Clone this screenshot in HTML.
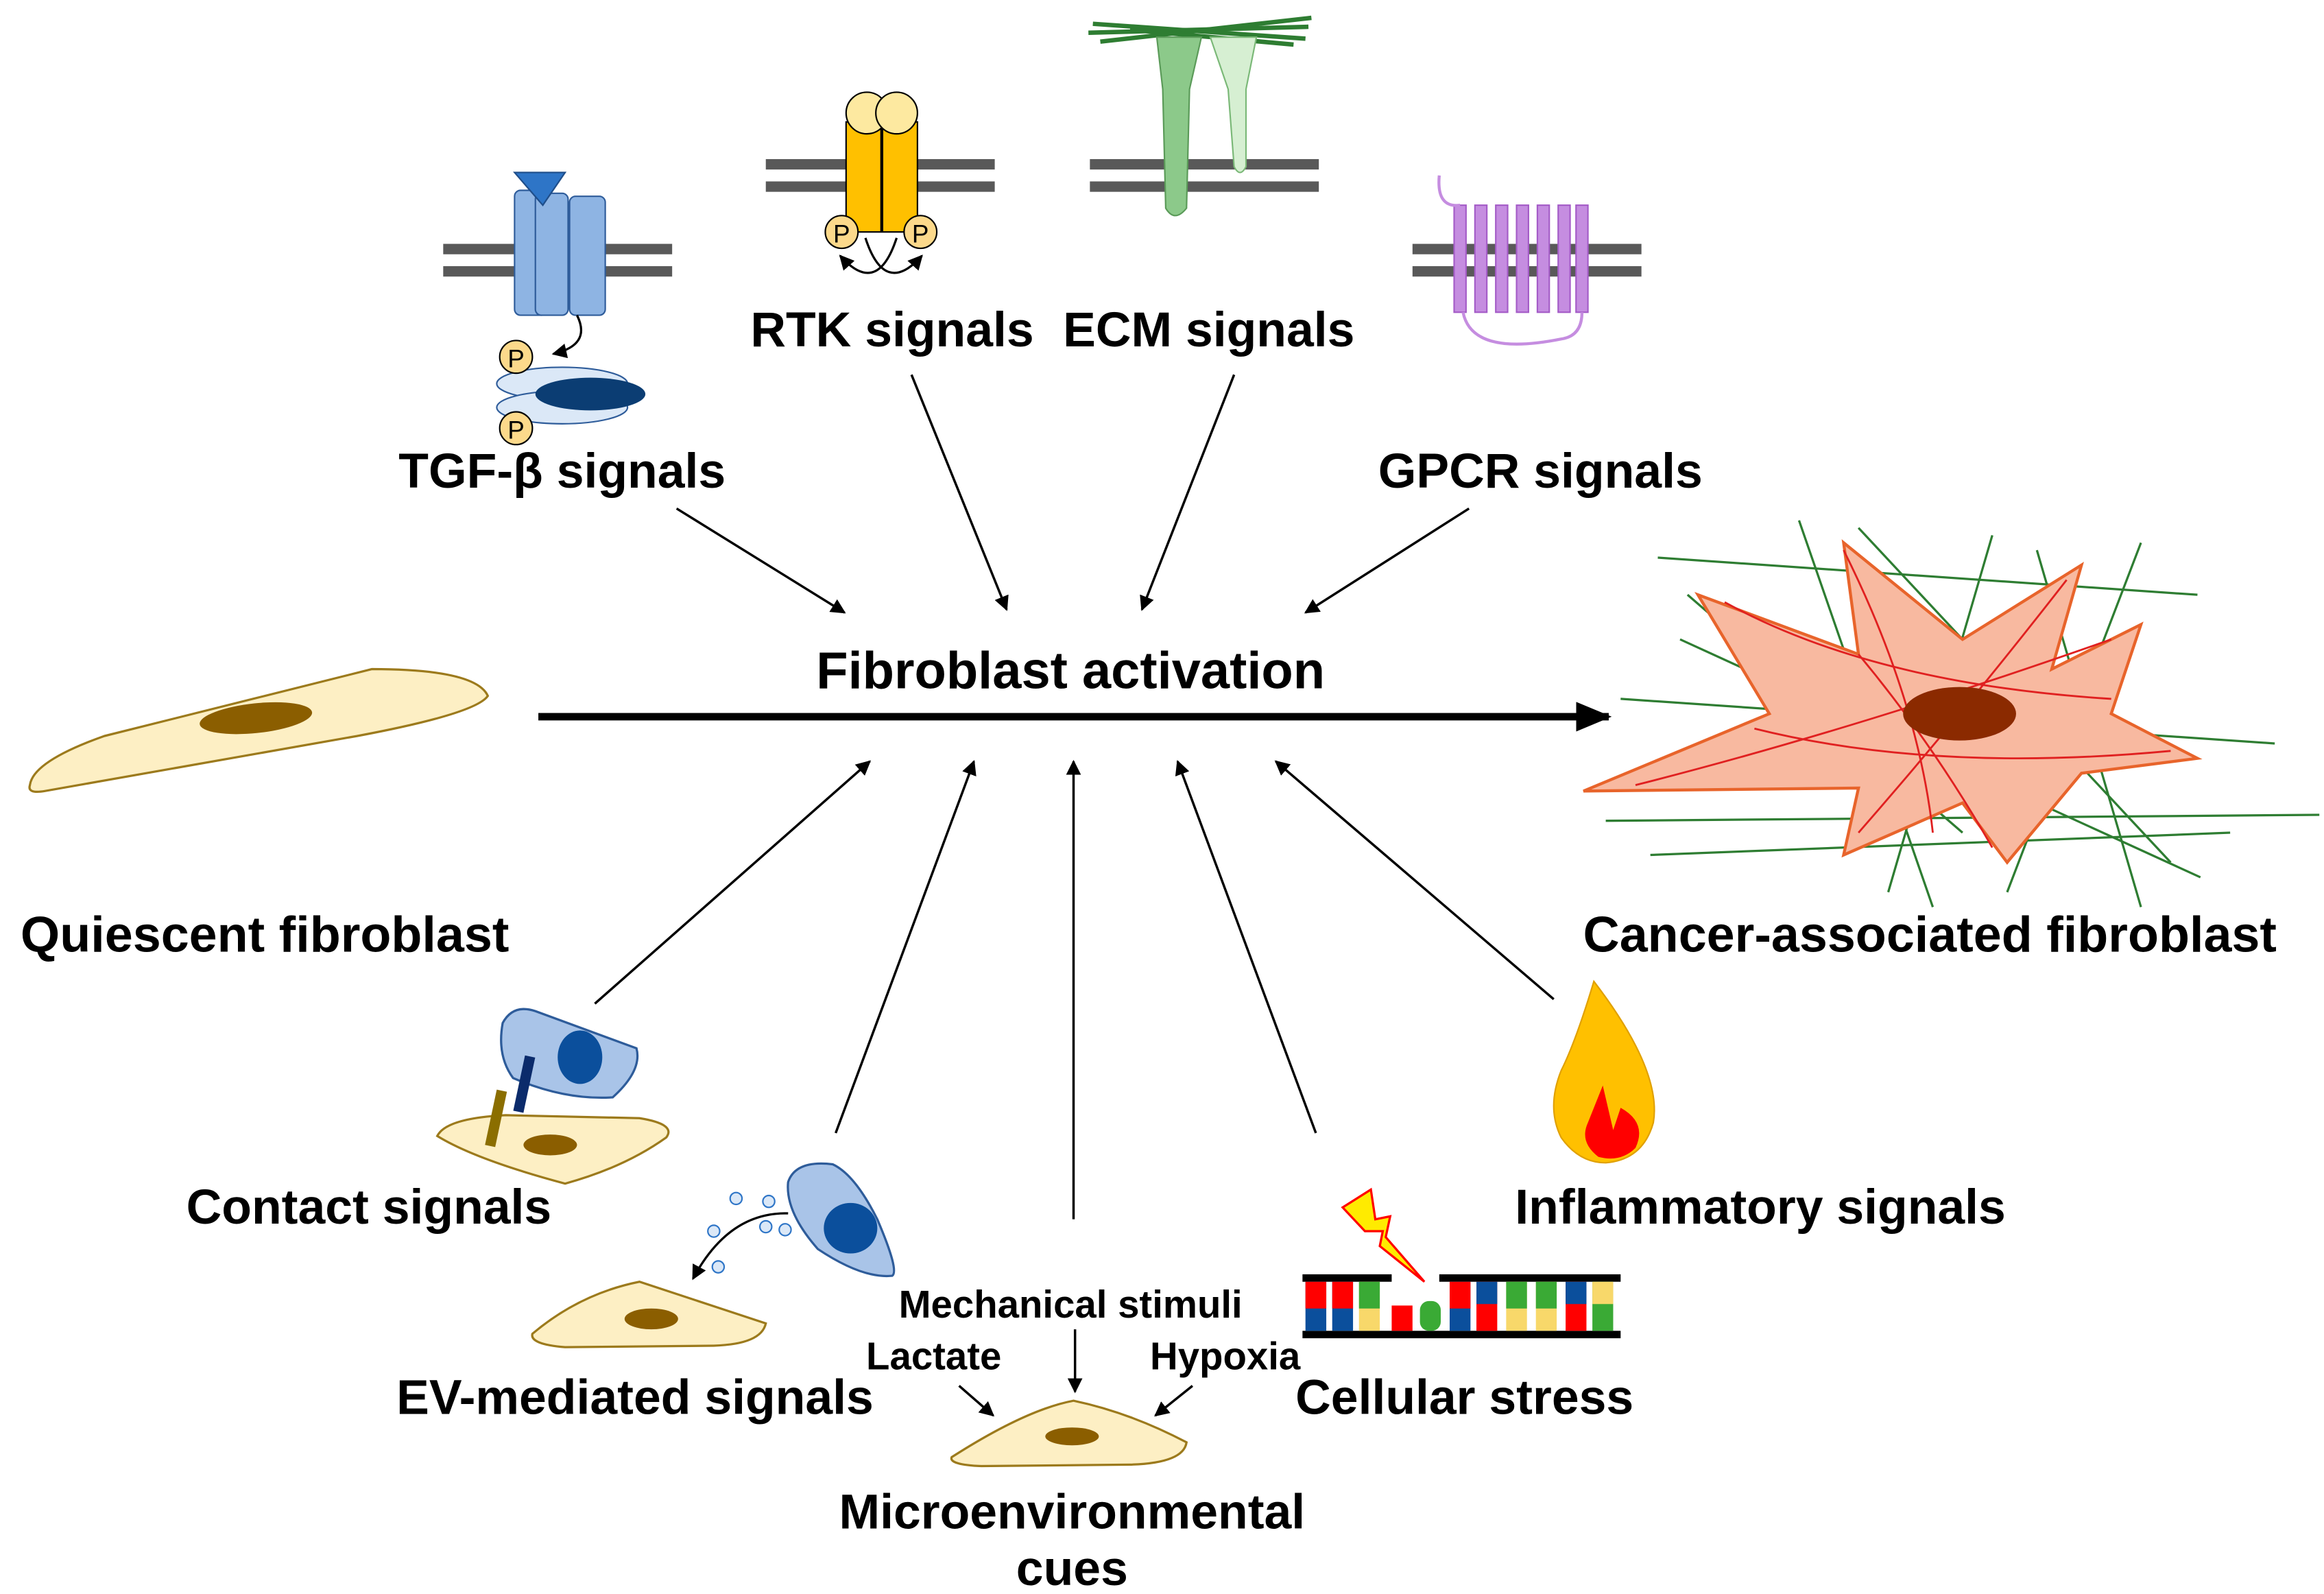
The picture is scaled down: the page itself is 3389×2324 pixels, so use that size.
<!DOCTYPE html>
<html><head><meta charset="utf-8"><style>
html,body{margin:0;padding:0;background:#fff;}
svg{display:block;}
text{font-family:"Liberation Sans",Arial,sans-serif;font-weight:bold;fill:#000;text-anchor:middle;}
</style></head><body>
<svg width="3389" height="2324" viewBox="0 0 1563 1072" xmlns="http://www.w3.org/2000/svg">
<defs>
<marker id="a" markerWidth="10" markerHeight="10" refX="9" refY="5" orient="auto" markerUnits="userSpaceOnUse"><path d="M0,0 L10,5 L0,10 z" fill="#000"/></marker>
<marker id="b" markerWidth="24" markerHeight="20" refX="22" refY="10" orient="auto" markerUnits="userSpaceOnUse"><path d="M0,0 L24,10 L0,20 z" fill="#000"/></marker>
</defs>
<rect width="1563" height="1072" fill="#fff"/>

<g fill="#595959">
<rect x="298" y="164" width="154" height="7"/><rect x="298" y="179" width="154" height="7"/>
<rect x="515" y="107" width="154" height="7"/><rect x="515" y="122" width="154" height="7"/>
<rect x="733" y="107" width="154" height="7"/><rect x="733" y="122" width="154" height="7"/>
<rect x="950" y="164" width="154" height="7"/><rect x="950" y="179" width="154" height="7"/>
</g>

<rect x="346" y="128" width="22" height="84" rx="4" fill="#8eb4e3" stroke="#2e5c9a"/>
<rect x="360" y="130" width="22" height="82" rx="4" fill="#8eb4e3" stroke="#2e5c9a"/>
<rect x="383" y="132" width="24" height="80" rx="4" fill="#8eb4e3" stroke="#2e5c9a"/>
<path d="M346,116 L380,116 L365,138 z" fill="#2e75c7" stroke="#1f4e8a"/>
<path d="M388,212 Q398,232 372,238" fill="none" stroke="#000" stroke-width="1.5" marker-end="url(#a)"/>
<ellipse cx="378" cy="258" rx="44" ry="11" fill="#dbe8f7" stroke="#2e5c9a"/>
<ellipse cx="378" cy="274" rx="44" ry="11" fill="#dbe8f7" stroke="#2e5c9a"/>
<ellipse cx="397" cy="265" rx="37" ry="11" fill="#0b3d73"/>
<circle cx="347" cy="240" r="11" fill="#fcd98b" stroke="#000"/><text x="347" y="247" style="font-size:17px;font-weight:normal">P</text>
<circle cx="347" cy="288" r="11" fill="#fcd98b" stroke="#000"/><text x="347" y="295" style="font-size:17px;font-weight:normal">P</text>

<rect x="569" y="82" width="48" height="74" fill="#ffc000" stroke="#000"/>
<line x1="593" y1="82" x2="593" y2="156" stroke="#000" stroke-width="2"/>
<ellipse cx="583" cy="76" rx="14" ry="14" fill="#fde9a0" stroke="#000"/>
<ellipse cx="603" cy="76" rx="14" ry="14" fill="#fde9a0" stroke="#000"/>
<circle cx="566" cy="156" r="11" fill="#fcd98b" stroke="#000"/><text x="566" y="163" style="font-size:17px;font-weight:normal">P</text>
<circle cx="619" cy="156" r="11" fill="#fcd98b" stroke="#000"/><text x="619" y="163" style="font-size:17px;font-weight:normal">P</text>
<path d="M603,160 Q590,200 565,172" fill="none" stroke="#000" stroke-width="1.5" marker-end="url(#a)"/>
<path d="M582,160 Q595,200 620,172" fill="none" stroke="#000" stroke-width="1.5" marker-end="url(#a)"/>

<g stroke="#2e7d32" stroke-width="3" fill="none">
<path d="M732,22 L880,18"/><path d="M735,16 L878,26"/><path d="M740,28 L882,12"/><path d="M760,20 L870,30"/>
</g>
<path d="M778,25 L808,25 L800,60 L798,140 Q790,150 784,140 L782,60 z" fill="#8cc98a" stroke="#5a9a58"/>
<path d="M814,25 L845,25 L838,60 L838,112 Q834,120 830,112 L826,60 z" fill="#d6efd2" stroke="#7ab877"/>

<g fill="#c58de0" stroke="#a45cc7">
<rect x="978" y="138" width="8" height="72"/><rect x="992" y="138" width="8" height="72"/><rect x="1006" y="138" width="8" height="72"/><rect x="1020" y="138" width="8" height="72"/><rect x="1034" y="138" width="8" height="72"/><rect x="1048" y="138" width="8" height="72"/><rect x="1060" y="138" width="8" height="72"/>
</g>
<path d="M968,118 Q966,140 982,138 M984,210 Q990,240 1050,228 Q1064,226 1064,210" fill="none" stroke="#c58de0" stroke-width="2"/>

<text x="378" y="328" style="font-size:33px">TGF-β signals</text>
<text x="600" y="233" style="font-size:33px">RTK signals</text>
<text x="813" y="233" style="font-size:33px">ECM signals</text>
<text x="1036" y="328" style="font-size:33px">GPCR signals</text>

<g stroke="#000" stroke-width="1.6" marker-end="url(#a)">
<line x1="455" y1="342" x2="568" y2="412"/>
<line x1="613" y1="252" x2="677" y2="410"/>
<line x1="830" y1="252" x2="768" y2="410"/>
<line x1="988" y1="342" x2="878" y2="412"/>
<line x1="400" y1="675" x2="585" y2="512"/>
<line x1="562" y1="762" x2="655" y2="512"/>
<line x1="722" y1="820" x2="722" y2="512"/>
<line x1="885" y1="762" x2="792" y2="512"/>
<line x1="1045" y1="672" x2="858" y2="512"/>
<line x1="723" y1="894" x2="723" y2="936"/>
<line x1="645" y1="932" x2="668" y2="952"/>
<line x1="802" y1="932" x2="777" y2="952"/>
</g>

<text x="720" y="463" style="font-size:35px">Fibroblast activation</text>
<line x1="362" y1="482" x2="1082" y2="482" stroke="#000" stroke-width="5" marker-end="url(#b)"/>

<path d="M20,528 Q22,512 70,495 L250,450 Q320,450 328,468 Q320,480 240,495 L30,532 Q18,534 20,528 z" fill="#fdefc4" stroke="#9c7a1c" stroke-width="1.5"/>
<ellipse cx="172" cy="483" rx="38" ry="10" fill="#8b5e00" transform="rotate(-6 172 483)"/>
<text x="178" y="640" style="font-size:34px">Quiescent fibroblast</text>

<g stroke="#2e7d32" stroke-width="1.5">
<line x1="1115" y1="375" x2="1478" y2="400"/><line x1="1135" y1="400" x2="1320" y2="560"/><line x1="1210" y1="350" x2="1300" y2="610"/><line x1="1340" y1="360" x2="1270" y2="600"/><line x1="1440" y1="365" x2="1350" y2="600"/><line x1="1090" y1="470" x2="1530" y2="500"/><line x1="1080" y1="552" x2="1560" y2="548"/><line x1="1110" y1="575" x2="1500" y2="560"/><line x1="1130" y1="430" x2="1480" y2="590"/><line x1="1370" y1="370" x2="1440" y2="610"/><line x1="1250" y1="355" x2="1460" y2="580"/>
</g>
<path d="M1142,400 L1250,440 L1240,365 L1320,430 L1400,380 L1380,450 L1440,420 L1420,480 L1478,510 L1400,520 L1350,580 L1320,540 L1240,575 L1250,530 L1065,532 L1190,480 z" fill="#f8b9a0" stroke="#e8642b" stroke-width="2"/>
<g stroke="#e02020" stroke-width="1.3" fill="none">
<path d="M1160,405 Q1260,460 1420,470"/><path d="M1250,440 Q1300,500 1340,570"/><path d="M1100,528 Q1250,490 1420,430"/><path d="M1240,370 Q1290,470 1300,560"/><path d="M1390,390 Q1320,480 1250,560"/><path d="M1180,490 Q1300,520 1460,505"/>
</g>
<ellipse cx="1318" cy="480" rx="38" ry="18" fill="#8b2a00"/>
<text x="1298" y="640" style="font-size:34px">Cancer-associated fibroblast</text>

<path d="M338,688 Q345,675 360,680 L428,705 Q432,720 412,738 Q380,740 345,725 Q334,710 338,688 z" fill="#a9c4e8" stroke="#2e5c9a" stroke-width="1.5"/>
<ellipse cx="390" cy="711" rx="15" ry="18" fill="#0b4f9c"/>
<rect x="349" y="710" width="7" height="38" fill="#0b2b6b" transform="rotate(12 352 729)"/>
<path d="M294,764 Q300,752 340,750 L430,752 Q455,756 448,765 Q420,785 380,796 Q320,780 294,764 z" fill="#fdefc4" stroke="#9c7a1c" stroke-width="1.5"/>
<rect x="330" y="733" width="7" height="38" fill="#8b6e00" transform="rotate(12 333 752)"/>
<ellipse cx="370" cy="770" rx="18" ry="7" fill="#8b5e00"/>
<text x="248" y="823" style="font-size:33px">Contact signals</text>

<path d="M530,795 Q535,780 560,783 Q575,790 590,820 Q605,855 600,858 Q580,860 550,840 Q528,815 530,795 z" fill="#a9c4e8" stroke="#2e5c9a" stroke-width="1.5"/>
<ellipse cx="572" cy="826" rx="18" ry="17" fill="#0b4f9c"/>
<g fill="#dbe8f7" stroke="#2e75c7"><circle cx="495" cy="806" r="4"/><circle cx="517" cy="808" r="4"/><circle cx="480" cy="828" r="4"/><circle cx="515" cy="825" r="4"/><circle cx="528" cy="827" r="4"/><circle cx="483" cy="852" r="4"/></g>
<path d="M530,816 Q490,815 466,860" fill="none" stroke="#000" stroke-width="1.5" marker-end="url(#a)"/>
<path d="M358,897 Q390,870 430,862 Q470,875 515,890 Q512,904 480,905 L380,906 Q356,904 358,897 z" fill="#fdefc4" stroke="#9c7a1c" stroke-width="1.5"/>
<ellipse cx="438" cy="887" rx="18" ry="7" fill="#8b5e00"/>
<text x="427" y="951" style="font-size:33px">EV-mediated signals</text>

<text x="720" y="886" style="font-size:26px">Mechanical stimuli</text>
<text x="628" y="921" style="font-size:26px">Lactate</text>
<text x="824" y="921" style="font-size:26px">Hypoxia</text>
<path d="M640,980 Q690,948 722,942 Q760,950 798,970 Q796,984 760,985 L660,986 Q638,985 640,980 z" fill="#fdefc4" stroke="#9c7a1c" stroke-width="1.5"/>
<ellipse cx="721" cy="966" rx="18" ry="6" fill="#8b5e00"/>
<text x="721" y="1028" style="font-size:33px">Microenvironmental</text>
<text x="721" y="1066" style="font-size:33px">cues</text>

<rect x="876" y="857" width="60" height="5" fill="#000"/><rect x="968" y="857" width="122" height="5" fill="#000"/>
<rect x="876" y="895" width="214" height="5" fill="#000"/>
<g>
<rect x="878" y="862" width="14" height="33" fill="#0b4f9c"/><rect x="878" y="862" width="14" height="18" fill="#f00"/>
<rect x="896" y="862" width="14" height="33" fill="#0b4f9c"/><rect x="896" y="862" width="14" height="18" fill="#f00"/>
<rect x="914" y="862" width="14" height="33" fill="#f8d86a"/><rect x="914" y="862" width="14" height="18" fill="#3aaa35"/>
<rect x="936" y="878" width="14" height="17" fill="#f00"/><rect x="955" y="875" width="14" height="20" rx="6" fill="#3aaa35"/>
<rect x="975" y="862" width="14" height="33" fill="#0b4f9c"/><rect x="975" y="862" width="14" height="18" fill="#f00"/>
<rect x="993" y="862" width="14" height="33" fill="#f00"/><rect x="993" y="862" width="14" height="15" fill="#0b4f9c"/>
<rect x="1013" y="862" width="14" height="33" fill="#f8d86a"/><rect x="1013" y="862" width="14" height="18" fill="#3aaa35"/>
<rect x="1033" y="862" width="14" height="33" fill="#f8d86a"/><rect x="1033" y="862" width="14" height="18" fill="#3aaa35"/>
<rect x="1053" y="862" width="14" height="33" fill="#f00"/><rect x="1053" y="862" width="14" height="15" fill="#0b4f9c"/>
<rect x="1071" y="862" width="14" height="33" fill="#3aaa35"/><rect x="1071" y="862" width="14" height="15" fill="#f8d86a"/>
</g>
<path d="M903,812 L922,800 L925,820 L935,818 L932,832 L958,862 L928,838 L930,828 L918,828 z" fill="#ffeb00" stroke="#f00" stroke-width="1.5"/>
<text x="985" y="951" style="font-size:33px">Cellular stress</text>

<path d="M1072,660 Q1060,700 1050,720 Q1040,745 1050,765 Q1062,782 1080,782 Q1105,780 1112,755 Q1118,720 1072,660 z" fill="#ffc000" stroke="#e0a000"/>
<path d="M1078,730 L1068,755 Q1062,768 1075,778 Q1090,782 1100,772 Q1108,755 1090,745 L1085,760 z" fill="#f00"/>
<text x="1184" y="823" style="font-size:33px">Inflammatory signals</text>
</svg>
</body></html>
